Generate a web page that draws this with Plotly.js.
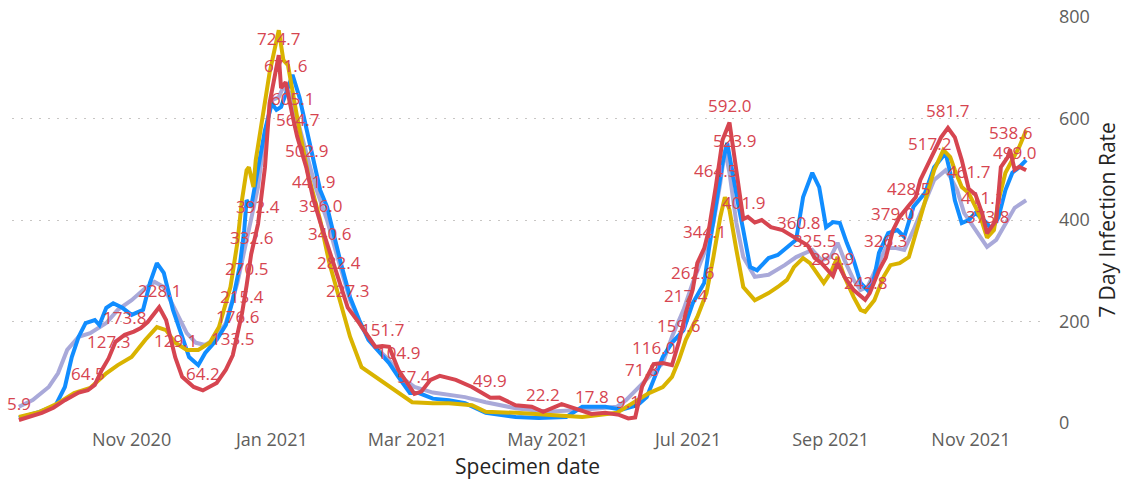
<!DOCTYPE html>
<html>
<head>
<meta charset="utf-8">
<script src="https://cdn.plot.ly/plotly-3.0.1.min.js"></script>
<style>
  html, body { margin: 0; padding: 0; background: #ffffff; }
  #chart { width: 1123px; height: 482px; }
</style>
</head>
<body>
<div id="chart"></div>
<script>
// ---------- DATA ----------
const redDates = ['2020-09-13','2020-09-23','2020-09-28','2020-10-03','2020-10-09','2020-10-13','2020-10-16','2020-10-19','2020-10-22','2020-10-25','2020-10-29','2020-11-02','2020-11-05','2020-11-08','2020-11-13','2020-11-16','2020-11-20','2020-11-23','2020-11-28','2020-12-02','2020-12-08','2020-12-12','2020-12-15','2020-12-17','2020-12-19','2020-12-21','2020-12-23','2020-12-26','2020-12-29','2020-12-31','2021-01-04','2021-01-05','2021-01-07','2021-01-10','2021-01-12','2021-01-16','2021-01-19','2021-01-22','2021-01-26','2021-01-30','2021-02-03','2021-02-07','2021-02-11','2021-02-15','2021-02-18','2021-02-21','2021-02-25','2021-03-04','2021-03-07','2021-03-11','2021-03-15','2021-03-22','2021-03-29','2021-04-06','2021-04-10','2021-04-17','2021-04-24','2021-04-29','2021-05-07','2021-05-13','2021-05-20','2021-05-26','2021-06-01','2021-06-05','2021-06-08','2021-06-11','2021-06-16','2021-06-20','2021-06-24','2021-06-27','2021-06-30','2021-07-03','2021-07-05','2021-07-08','2021-07-10','2021-07-13','2021-07-16','2021-07-19','2021-07-21','2021-07-23','2021-07-25','2021-07-27','2021-07-30','2021-08-02','2021-08-06','2021-08-11','2021-08-14','2021-08-18','2021-08-22','2021-08-25','2021-08-28','2021-09-02','2021-09-04','2021-09-07','2021-09-11','2021-09-16','2021-09-18','2021-09-22','2021-09-25','2021-09-28','2021-10-01','2021-10-05','2021-10-08','2021-10-10','2021-10-14','2021-10-16','2021-10-19','2021-10-22','2021-10-25','2021-10-28','2021-10-31','2021-11-03','2021-11-06','2021-11-08','2021-11-12','2021-11-14','2021-11-17','2021-11-18','2021-11-20','2021-11-22','2021-11-25'];
const redVals = [5.9,20,30,45,60,64.5,75,104,127.3,160,173.8,180,187,199,228.1,203,129.1,91,71,64.2,79,105,133.5,176.6,215.4,270.5,332.6,392.4,504,630,724.7,660,671.6,605.1,564.7,502.9,441.9,396.0,340.6,282.4,227.3,203,177,150,151.7,150,104.9,57.4,62,85,93,85,71,49.9,50,35,32,22.2,37,29,17.8,20,16,9.1,11,71.8,116.0,118,114,159.6,217.4,262.6,315,344.1,380,464.5,558,592.0,523.9,465,401.9,406,395,400,386,380,372,360.8,350,325.5,315,289.9,315,288,262,242.8,256,301,326.3,379.0,406,428.5,445,479,517.2,532,563,581.7,563,518,461.7,450,411.1,373.8,400,504,524,538.6,499.0,505,498];
// 1 = this point carries a data label
const redLabelled = [1,0,0,0,0,1,0,0,1,0,1,0,0,0,1,0,1,0,0,1,0,0,1,1,1,1,1,1,0,0,1,0,1,1,1,1,1,1,1,1,1,0,0,0,1,0,1,1,0,0,0,0,0,1,0,0,0,1,0,0,1,0,0,1,0,1,1,0,0,1,1,1,0,1,0,1,0,1,1,0,1,0,0,0,0,0,0,1,0,1,0,1,0,0,0,1,0,0,1,1,0,1,0,0,1,0,0,1,0,0,1,0,1,1,0,0,0,1,1,0,0];

const blueDates = ['2020-09-13','2020-09-22','2020-09-29','2020-10-03','2020-10-06','2020-10-09','2020-10-12','2020-10-16','2020-10-18','2020-10-21','2020-10-24','2020-10-28','2020-11-01','2020-11-06','2020-11-09','2020-11-12','2020-11-15','2020-11-19','2020-11-23','2020-11-26','2020-11-30','2020-12-03','2020-12-08','2020-12-12','2020-12-15','2020-12-18','2020-12-20','2020-12-21','2020-12-23','2020-12-26','2020-12-29','2021-01-01','2021-01-03','2021-01-05','2021-01-07','2021-01-10','2021-01-13','2021-01-16','2021-01-19','2021-01-22','2021-01-25','2021-01-28','2021-01-31','2021-02-04','2021-02-08','2021-02-12','2021-02-17','2021-02-21','2021-02-25','2021-03-02','2021-03-06','2021-03-12','2021-03-19','2021-03-26','2021-04-04','2021-04-17','2021-04-27','2021-05-09','2021-05-16','2021-05-26','2021-06-02','2021-06-09','2021-06-13','2021-06-16','2021-06-20','2021-06-24','2021-06-29','2021-07-03','2021-07-08','2021-07-10','2021-07-13','2021-07-16','2021-07-18','2021-07-20','2021-07-23','2021-07-25','2021-07-28','2021-07-31','2021-08-05','2021-08-09','2021-08-13','2021-08-17','2021-08-20','2021-08-24','2021-08-27','2021-08-30','2021-09-02','2021-09-05','2021-09-08','2021-09-11','2021-09-14','2021-09-17','2021-09-20','2021-09-22','2021-09-26','2021-09-30','2021-10-03','2021-10-07','2021-10-12','2021-10-16','2021-10-21','2021-10-23','2021-10-25','2021-10-28','2021-10-31','2021-11-03','2021-11-08','2021-11-10','2021-11-13','2021-11-16','2021-11-19','2021-11-22','2021-11-25'];
const blueVals = [10,22,35,71,130,170,197,203,193,227,236,227,213,223,276,315,296,223,170,130,114,138,164,193,242,308,380,439,426,504,577,630,617,623,650,686,642,583,518,459,426,367,315,248,203,164,138,118,91,59,59,48,45,39,20,12,10,12,32,32,26,35,51,85,130,158,183,236,276,341,433,512,552,498,426,380,307,301,325,331,347,361,445,493,465,386,396,394,355,321,276,262,288,335,374,380,367,426,453,504,532,493,439,394,400,414,394,380,406,459,493,504,518];

const goldDates = ['2020-09-13','2020-09-22','2020-09-30','2020-10-07','2020-10-14','2020-10-21','2020-10-26','2020-11-01','2020-11-07','2020-11-12','2020-11-16','2020-11-20','2020-11-25','2020-11-30','2020-12-05','2020-12-09','2020-12-14','2020-12-17','2020-12-19','2020-12-21','2020-12-22','2020-12-24','2020-12-25','2020-12-27','2020-12-31','2021-01-04','2021-01-06','2021-01-08','2021-01-10','2021-01-13','2021-01-17','2021-01-22','2021-01-26','2021-01-31','2021-02-04','2021-02-09','2021-02-17','2021-02-24','2021-03-03','2021-03-12','2021-03-19','2021-03-29','2021-04-04','2021-04-17','2021-05-01','2021-05-16','2021-05-31','2021-06-09','2021-06-14','2021-06-20','2021-06-24','2021-06-27','2021-06-30','2021-07-05','2021-07-09','2021-07-12','2021-07-15','2021-07-17','2021-07-19','2021-07-22','2021-07-25','2021-07-30','2021-08-05','2021-08-09','2021-08-13','2021-08-16','2021-08-20','2021-08-23','2021-08-25','2021-08-29','2021-09-01','2021-09-04','2021-09-07','2021-09-11','2021-09-14','2021-09-16','2021-09-20','2021-09-24','2021-09-27','2021-10-01','2021-10-05','2021-10-08','2021-10-12','2021-10-16','2021-10-20','2021-10-23','2021-10-25','2021-10-28','2021-10-31','2021-11-03','2021-11-06','2021-11-08','2021-11-11','2021-11-13','2021-11-16','2021-11-19','2021-11-22','2021-11-25'];
const goldVals = [12,22,39,59,69,98,114,130,164,189,183,158,144,144,158,189,268,355,439,498,504,465,518,577,690,774,715,705,650,577,485,400,315,236,170,110,85,65,41,39,39,35,22,20,16,12,20,45,59,71,91,124,164,209,256,327,406,445,420,341,268,242,256,268,282,307,325,315,301,276,296,327,288,248,223,219,242,288,311,315,327,374,439,498,538,524,498,465,453,426,394,365,380,439,493,518,544,577];

const lavDates = ['2020-09-13','2020-09-19','2020-09-26','2020-09-30','2020-10-04','2020-10-09','2020-10-14','2020-10-21','2020-10-26','2020-11-01','2020-11-07','2020-11-11','2020-11-15','2020-11-20','2020-11-25','2020-11-29','2020-12-03','2020-12-07','2020-12-12','2020-12-17','2020-12-21','2020-12-23','2020-12-26','2020-12-29','2021-01-01','2021-01-04','2021-01-06','2021-01-09','2021-01-12','2021-01-16','2021-01-20','2021-01-25','2021-01-29','2021-02-04','2021-02-09','2021-02-15','2021-02-21','2021-02-26','2021-03-04','2021-03-12','2021-03-26','2021-04-04','2021-04-17','2021-05-01','2021-05-16','2021-05-31','2021-06-04','2021-06-09','2021-06-14','2021-06-20','2021-06-24','2021-06-29','2021-07-03','2021-07-08','2021-07-12','2021-07-15','2021-07-17','2021-07-19','2021-07-22','2021-07-25','2021-07-30','2021-08-05','2021-08-12','2021-08-17','2021-08-22','2021-08-24','2021-08-28','2021-09-01','2021-09-04','2021-09-07','2021-09-11','2021-09-14','2021-09-17','2021-09-21','2021-09-25','2021-09-29','2021-10-03','2021-10-07','2021-10-12','2021-10-16','2021-10-21','2021-10-23','2021-10-26','2021-10-29','2021-11-01','2021-11-05','2021-11-08','2021-11-12','2021-11-16','2021-11-20','2021-11-25'];
const lavVals = [32,45,71,98,144,170,177,197,223,242,266,278,268,223,177,158,154,164,197,276,361,400,465,571,636,642,662,650,597,532,465,400,335,242,189,150,124,91,71,60,51,41,29,22,26,32,45,69,91,118,170,223,276,335,394,473,538,493,394,327,288,292,311,327,337,341,321,327,355,321,282,262,268,307,345,345,341,380,433,479,498,485,459,414,394,367,347,361,394,424,439];

const xTickVals = ['2020-11-01','2021-01-01','2021-03-01','2021-05-01','2021-07-01','2021-09-01','2021-11-01'];
const xTickText = ['Nov 2020','Jan 2021','Mar 2021','May 2021','Jul 2021','Sep 2021','Nov 2021'];
const yTickVals = [0,200,400,600,800];

// ---------- STYLE ----------
const FONT = 'Segoe UI, "Open Sans", sans-serif';
const C_BLUE = '#118DFF', C_GOLD = '#D9B300', C_RED = '#D64550', C_LAV = '#A9A9D9';
const LW = 4;

const traces = [
  {x: lavDates, y: lavVals, type: 'scatter', mode: 'lines', line: {color: C_LAV, width: LW}, hoverinfo: 'skip'},
  {x: blueDates, y: blueVals, type: 'scatter', mode: 'lines', line: {color: C_BLUE, width: LW}, hoverinfo: 'skip'},
  {x: goldDates, y: goldVals, type: 'scatter', mode: 'lines', line: {color: C_GOLD, width: LW}, hoverinfo: 'skip'},
  {x: redDates, y: redVals, type: 'scatter', mode: 'lines', line: {color: C_RED, width: LW}, hoverinfo: 'skip'}
];

const annotations = [];
redDates.forEach((d, i) => {
  if (redLabelled[i]) {
    annotations.push({
      x: d, y: redVals[i], xref: 'x', yref: 'y',
      text: redVals[i].toFixed(1), showarrow: false,
      yanchor: 'middle', xanchor: 'center', yshift: 17,
      font: {family: FONT, size: 17, color: C_RED}
    });
  }
});

const layout = {
  width: 1123, height: 482,
  margin: {l: 12, r: 80, t: 17, b: 59},
  paper_bgcolor: '#ffffff', plot_bgcolor: '#ffffff',
  showlegend: false,
  font: {family: FONT},
  xaxis: {
    type: 'date',
    range: ['2020-09-10', '2021-12-02 08:00'],
    tickvals: xTickVals, ticktext: xTickText,
    tickfont: {family: FONT, size: 18, color: '#605E5C'},
    showgrid: false, zeroline: false, showline: false, ticks: '',
    ticklabelstandoff: 4,
    title: {text: 'Specimen date', font: {family: FONT, size: 21, color: '#252423'}, standoff: 9},
    automargin: false, fixedrange: true
  },
  yaxis: {
    side: 'right',
    range: [0, 800],
    tickvals: yTickVals,
    tickfont: {family: FONT, size: 18, color: '#605E5C'},
    showgrid: true, gridcolor: '#C8C6C4', gridwidth: 1, griddash: '2px,7px',
    zeroline: false, showline: false, ticks: '',
    ticklabelstandoff: 15,
    title: {text: '7 Day Infection Rate', font: {family: FONT, size: 21, color: '#252423'}, standoff: 11},
    automargin: false, fixedrange: true
  },
  annotations: annotations
};

Plotly.newPlot('chart', traces, layout, {displayModeBar: false, staticPlot: true});
</script>
</body>
</html>
